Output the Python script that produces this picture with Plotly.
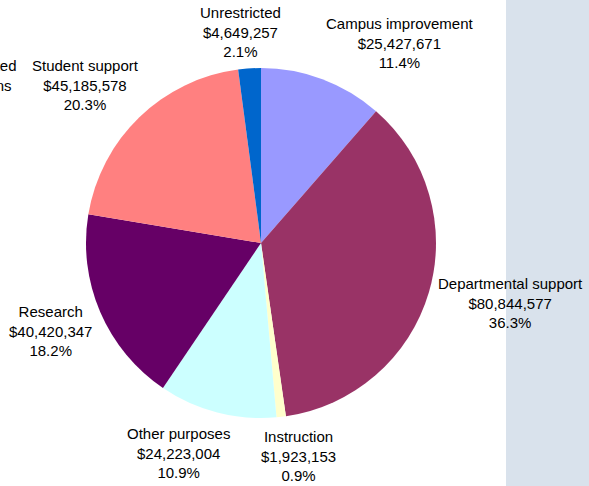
import plotly.graph_objects as go

# ---- data ----
categories = ["Campus improvement", "Departmental support", "Instruction",
              "Other purposes", "Research", "Student support", "Unrestricted"]
values = [25427671, 80844577, 1923153, 24223004, 40420347, 45185578, 4649257]
colors = ["#9999FF", "#993366", "#FFFFCC", "#CCFFFF", "#660066", "#FF8080", "#0066CC"]

# label centre positions in pixels (x, y of middle line)
label_pos = [(400, 43), (510, 303), (298, 456), (178, 453), (50, 331), (85, 85), (240, 32)]

W, H = 589, 486
total = sum(values)

# pie geometry (pixels)
cx, cy, r = 261, 243, 175

fig = go.Figure()
fig.add_trace(go.Pie(
    labels=categories, values=values, sort=False, direction="clockwise",
    rotation=0, textinfo="none", showlegend=False,
    marker=dict(colors=colors, line=dict(width=0)),
    domain=dict(x=[(cx - r) / W, (cx + r) / W], y=[1 - (cy + r) / H, 1 - (cy - r) / H]),
))

font = dict(family="Liberation Sans, Arial, sans-serif", size=15, color="#000000")
for cat, val, (px, py) in zip(categories, values, label_pos):
    txt = f"{cat}<br>${val:,}<br>{val / total * 100:.1f}%"
    fig.add_annotation(x=px / W, y=1 - py / H, xref="paper", yref="paper",
                       text=txt, showarrow=False, xanchor="center", yanchor="middle",
                       align="center", font=font)

# partially visible label cut off at the left edge
fig.add_annotation(x=19 / W, y=1 - 85 / H, xref="paper", yref="paper",
                   text="Restricted<br>for loans<br>0.0%", showarrow=False,
                   xanchor="right", yanchor="middle", align="center", font=font)

fig.add_shape(type="rect", xref="paper", yref="paper", x0=506 / W, x1=1.0, y0=0, y1=1,
              fillcolor="#D9E2EC", line=dict(width=0), layer="below")

fig.update_layout(width=W, height=H, margin=dict(l=0, r=0, t=0, b=0),
                  paper_bgcolor="white", plot_bgcolor="white")
fig.write_html("out.html")
